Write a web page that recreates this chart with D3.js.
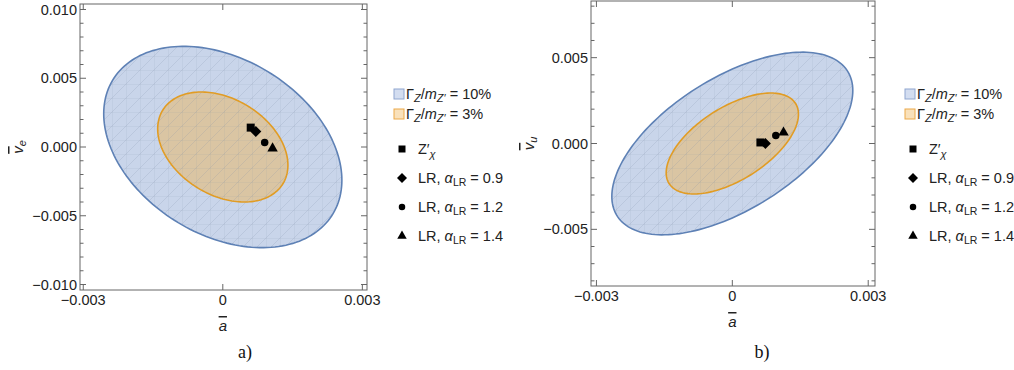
<!DOCTYPE html>
<html>
<head>
<meta charset="utf-8">
<script src="https://cdn.jsdelivr.net/npm/d3@7"></script>
<style>
  body { margin: 0; background: #fff; }
  svg { display: block; font-family: "Liberation Sans", Arial, sans-serif; }
  .tick-label { font-size: 14.5px; fill: #222; }
  .legend text { font-size: 14.5px; fill: #222; }
  .caption { font-family: "Liberation Serif", "Times New Roman", serif; font-size: 18px; fill: #111; }
</style>
</head>
<body>
<svg id="vis" width="1014" height="370"></svg>
<script>
// tick values
const xTicks = [-0.003, 0, 0.003];
const yTicksA = [-0.010, -0.005, 0.000, 0.005, 0.010];
const yTicksB = [-0.005, 0.000, 0.005];

// allowed regions, width/mass = 10% and 3%  (center, half-extents, correlation)
const widths = ['10%', '3%'];
const ellipsesA = [
  {cx: 0, cy: 0, sx: 0.00256, sy: 0.00732, rho: -0.33},
  {cx: 0, cy: 0, sx: 0.00140, sy: 0.00400, rho: -0.33},
];
const ellipsesB = [
  {cx: 0, cy: 0, sx: 0.00266, sy: 0.00532, rho: 0.58},
  {cx: 0, cy: 0, sx: 0.00146, sy: 0.00294, rho: 0.58},
];

// benchmark models
const models = ['Zchi', 'LR09', 'LR12', 'LR14'];
const shapes = ['square', 'diamond', 'circle', 'triangle'];
const pointsAx = [0.00060, 0.00071, 0.00090, 0.00107];
const pointsAy = [0.00141, 0.00112, 0.00033, -0.00010];
const pointsBx = [0.00062, 0.00073, 0.00096, 0.00113];
const pointsBy = [0.00006, 0.00000, 0.00047, 0.00064];

const fills = ['#c9d5ea', '#dac5a3'];
const strokes = ['#5e81b5', '#e19c24'];

const svg = d3.select('#vis');
const defs = svg.append('defs');

// faint mesh like the one Mathematica leaves in filled regions
const pat = defs.append('pattern')
    .attr('id', 'mesh')
    .attr('patternUnits', 'userSpaceOnUse')
    .attr('width', 14).attr('height', 14);
pat.append('path')
    .attr('d', 'M0,0V14M0,0H14M0,14L14,0M-1,1L1,-1M13,15L15,13')
    .attr('stroke', '#7f8fa8')
    .attr('stroke-opacity', 0.28)
    .attr('stroke-width', 0.7)
    .attr('fill', 'none');

function symbolPath(shape, s) {
  if (shape === 'square') return d3.symbol(d3.symbolSquare, s * s)();
  if (shape === 'circle') return d3.symbol(d3.symbolCircle, Math.PI * s * s / 4)();
  if (shape === 'triangle') return d3.symbol(d3.symbolTriangle, s * s * 0.43)();
  // diamond = square turned 45 degrees
  const h = s / 2;
  return `M0,${-h}L${h},0L0,${h}L${-h},0Z`;
}
const plotSizes = {square: 8, diamond: 11, circle: 7.5, triangle: 10.5};
const legendSizes = {square: 7, diamond: 10, circle: 6.5, triangle: 9.5};

function ellipsePoints(e) {
  const ts = d3.range(0, 2 * Math.PI + 0.001, Math.PI / 90);
  const k = Math.sqrt(1 - e.rho * e.rho);
  return ts.map(t => [e.cx + e.sx * Math.cos(t), e.cy + e.sy * (e.rho * Math.cos(t) + k * Math.sin(t))]);
}

function drawPanel(cfg) {
  const g = svg.append('g');
  const x = d3.scaleLinear().domain(cfg.xDomain).range([cfg.left, cfg.right]);
  const y = d3.scaleLinear().domain(cfg.yDomain).range([cfg.bottom, cfg.top]);
  const line = d3.line().x(d => x(d[0])).y(d => y(d[1]));

  const clipId = 'clip' + cfg.id;
  defs.append('clipPath').attr('id', clipId)
    .append('rect')
      .attr('x', cfg.left).attr('y', cfg.top)
      .attr('width', cfg.right - cfg.left).attr('height', cfg.bottom - cfg.top);
  const plot = g.append('g').attr('clip-path', `url(#${clipId})`);

  cfg.ellipses.forEach((e, i) => {
    plot.append('path').attr('d', line(ellipsePoints(e))).attr('fill', fills[i]);
  });
  plot.append('path').attr('d', line(ellipsePoints(cfg.ellipses[0]))).attr('fill', 'url(#mesh)');
  cfg.ellipses.forEach((e, i) => {
    plot.append('path').attr('d', line(ellipsePoints(e)))
      .attr('fill', 'none').attr('stroke', strokes[i]).attr('stroke-width', 1.6);
  });

  models.forEach((m, i) => {
    plot.append('path')
      .attr('d', symbolPath(shapes[i], plotSizes[shapes[i]]))
      .attr('transform', `translate(${x(cfg.px[i])},${y(cfg.py[i])})`)
      .attr('fill', '#000');
  });

  // frame with ticks on all sides
  const frameCol = '#666';
  g.append('rect')
    .attr('x', cfg.left).attr('y', cfg.top)
    .attr('width', cfg.right - cfg.left).attr('height', cfg.bottom - cfg.top)
    .attr('fill', 'none').attr('stroke', frameCol).attr('stroke-width', 1);

  const yMinor = d3.range(-10, 11).map(v => v * 0.001).filter(v => v >= cfg.yDomain[0] && v <= cfg.yDomain[1]);
  yMinor.forEach(v => {
    const major = Math.abs(Math.round(v * 1000) % 5) === 0;
    const len = major ? 6 : 3.5;
    g.append('line').attr('x1', cfg.left).attr('x2', cfg.left + len)
      .attr('y1', y(v)).attr('y2', y(v)).attr('stroke', frameCol);
    g.append('line').attr('x1', cfg.right).attr('x2', cfg.right - len)
      .attr('y1', y(v)).attr('y2', y(v)).attr('stroke', frameCol);
  });
  xTicks.forEach(v => {
    g.append('line').attr('x1', x(v)).attr('x2', x(v))
      .attr('y1', cfg.bottom).attr('y2', cfg.bottom - 6).attr('stroke', frameCol);
    g.append('line').attr('x1', x(v)).attr('x2', x(v))
      .attr('y1', cfg.top).attr('y2', cfg.top + 6).attr('stroke', frameCol);
  });

  const fmtY = v => (v < 0 ? '\u2212' : '') + Math.abs(v).toFixed(3);
  const fmtX = v => v === 0 ? '0' : (v < 0 ? '\u2212' : '') + Math.abs(v).toFixed(3);
  cfg.yTicks.forEach(v => {
    g.append('text').attr('class', 'tick-label')
      .attr('x', cfg.left - 3).attr('y', y(v) + 5)
      .attr('text-anchor', 'end').text(fmtY(v));
  });
  xTicks.forEach(v => {
    g.append('text').attr('class', 'tick-label')
      .attr('x', x(v)).attr('y', cfg.bottom + 15)
      .attr('text-anchor', 'middle').text(fmtX(v));
  });

  // axis labels
  const xl = g.append('text').attr('x', x(0)).attr('y', cfg.bottom + 41)
    .attr('text-anchor', 'middle').attr('font-size', 15).attr('fill', '#222');
  xl.append('tspan').attr('font-style', 'italic').attr('text-decoration', 'overline').text('a');

  const yl = g.append('text')
    .attr('transform', `translate(${cfg.yLabelX},${y(0)}) rotate(-90)`)
    .attr('text-anchor', 'middle').attr('font-size', 15).attr('fill', '#222');
  yl.append('tspan').attr('font-style', 'italic').attr('text-decoration', 'overline').text('v');
  yl.append('tspan').attr('font-style', 'italic').attr('font-size', 11).attr('dy', 3).text(cfg.yLabelSub);

  // legend
  const lg = g.append('g').attr('class', 'legend');
  const swY = [94, 114];
  widths.forEach((w, i) => {
    lg.append('rect')
      .attr('x', cfg.legendX - 5).attr('y', swY[i] - 5).attr('width', 10).attr('height', 10)
      .attr('fill', i === 0 ? '#d3ddf0' : '#f9e1bb')
      .attr('stroke', i === 0 ? '#8fa6d0' : '#eba94a').attr('stroke-width', 1);
    const t = lg.append('text').attr('x', cfg.legendX + 7).attr('y', swY[i] + 5);
    t.append('tspan').text('\u0393');
    t.append('tspan').attr('font-style', 'italic').attr('font-size', 11).attr('dy', 3).text('Z');
    t.append('tspan').attr('dy', -3).text('/');
    t.append('tspan').attr('font-style', 'italic').text('m');
    t.append('tspan').attr('font-style', 'italic').attr('font-size', 11).attr('dy', 3).text('Z\u2032');
    t.append('tspan').attr('dy', -3).text(' = ' + w);
  });

  const mkY = [149, 178, 207, 236];
  const lrVals = ['', '0.9', '1.2', '1.4'];
  models.forEach((m, i) => {
    lg.append('path')
      .attr('d', symbolPath(shapes[i], legendSizes[shapes[i]]))
      .attr('transform', `translate(${cfg.legendX + 3},${mkY[i]})`)
      .attr('fill', '#000');
    const t = lg.append('text').attr('x', cfg.legendX + 19).attr('y', mkY[i] + 5);
    if (i === 0) {
      t.append('tspan').text('Z\u2032');
      t.append('tspan').attr('font-style', 'italic').attr('font-size', 11).attr('dy', 4).text('\u03c7');
    } else {
      t.append('tspan').text('LR, ');
      t.append('tspan').attr('font-style', 'italic').text('\u03b1');
      t.append('tspan').attr('font-size', 10.5).attr('dy', 3).text('LR');
      t.append('tspan').attr('dy', -3).text(' = ' + lrVals[i]);
    }
  });

  svg.append('text').attr('class', 'caption')
    .attr('x', cfg.captionX).attr('y', 358).attr('text-anchor', 'middle').text(cfg.caption);
}

drawPanel({
  id: 'A', left: 80, right: 367, top: 4, bottom: 290,
  xDomain: [-0.00307, 0.00310], yDomain: [-0.0104, 0.0104],
  yTicks: yTicksA, ellipses: ellipsesA, px: pointsAx, py: pointsAy,
  yLabelX: 23, yLabelSub: 'e', legendX: 399, captionX: 245, caption: 'a)'
});
drawPanel({
  id: 'B', left: 591, right: 875, top: 1, bottom: 286,
  xDomain: [-0.00312, 0.00315], yDomain: [-0.0083, 0.0083],
  yTicks: yTicksB, ellipses: ellipsesB, px: pointsBx, py: pointsBy,
  yLabelX: 534, yLabelSub: 'u', legendX: 910, captionX: 762, caption: 'b)'
});
</script>
</body>
</html>
